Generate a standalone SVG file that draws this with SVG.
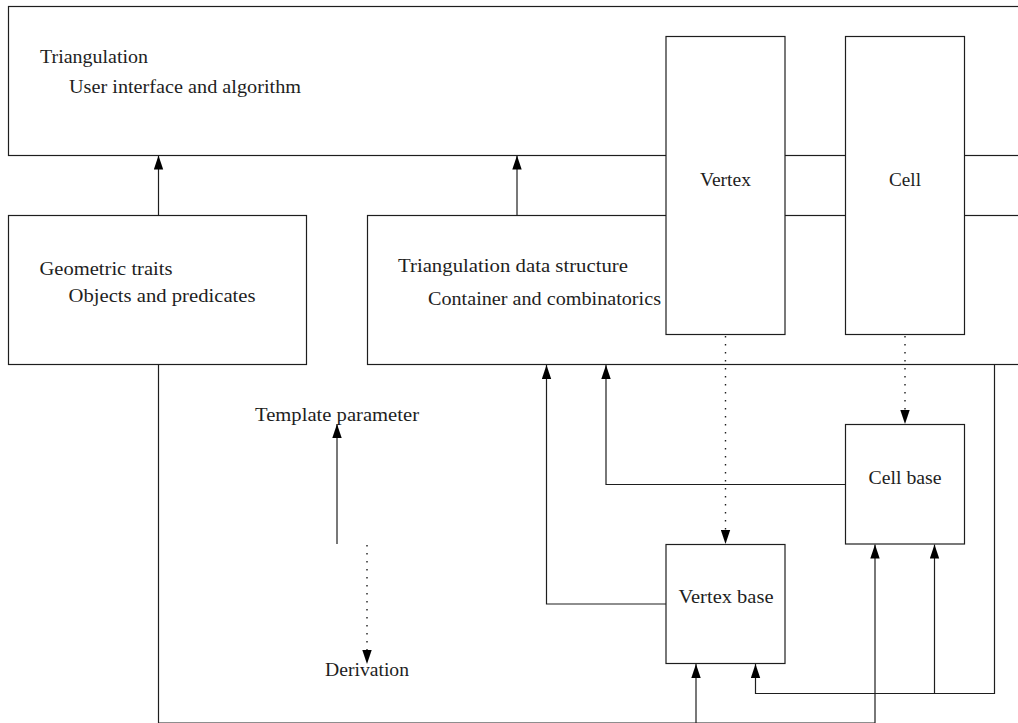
<svg xmlns="http://www.w3.org/2000/svg" width="1018" height="723" viewBox="0 0 1018 723">
  <style>
    .box { fill: #ffffff; stroke: #1e1e1e; stroke-width: 1.2; }
    .lbl { font-family: "Liberation Serif", "Times New Roman", serif; font-size: 18px; fill: #1e1e1e; }
    .mid { text-anchor: middle; }
    .wire { fill: none; stroke: #1e1e1e; stroke-width: 1.2; }
    .dot { fill: none; stroke: #1e1e1e; stroke-width: 1.4; stroke-dasharray: 1.4 6.6; }
  </style>
  <defs>
    <marker id="head" markerUnits="userSpaceOnUse" markerWidth="14" markerHeight="10" refX="14" refY="5" orient="auto">
      <path d="M0,0.3 L14,5 L0,9.7 z" fill="#000"/>
    </marker>
  </defs>
  <rect width="1018" height="723" fill="#ffffff"/>

  <!-- Top level: triangulation -->
  <g id="triangulation">
    <rect class="box" x="8.5" y="6.5" width="1030" height="149"/>
    <text class="lbl" x="40" y="63" textLength="108" lengthAdjust="spacingAndGlyphs">Triangulation</text>
    <text class="lbl" x="69" y="93" textLength="232" lengthAdjust="spacingAndGlyphs">User interface and algorithm</text>
  </g>

  <g id="geometric-traits">
    <rect class="box" x="8.5" y="215.5" width="298" height="149"/>
    <text class="lbl" x="39.5" y="275" textLength="133" lengthAdjust="spacingAndGlyphs">Geometric traits</text>
    <text class="lbl" x="68.5" y="302" textLength="187" lengthAdjust="spacingAndGlyphs">Objects and predicates</text>
  </g>

  <g id="tds">
    <rect class="box" x="367.5" y="215.5" width="670" height="149"/>
    <text class="lbl" x="398" y="272" textLength="230" lengthAdjust="spacingAndGlyphs">Triangulation data structure</text>
    <text class="lbl" x="428" y="305" textLength="233" lengthAdjust="spacingAndGlyphs">Container and combinatorics</text>
  </g>

  <g id="vertex">
    <rect class="box" x="666" y="36.5" width="119" height="298"/>
    <text class="lbl mid" x="725.5" y="186" textLength="51" lengthAdjust="spacingAndGlyphs">Vertex</text>
  </g>

  <g id="cell">
    <rect class="box" x="845.5" y="36.5" width="119" height="298"/>
    <text class="lbl mid" x="905" y="186" textLength="32" lengthAdjust="spacingAndGlyphs">Cell</text>
  </g>

  <g id="cell-base">
    <rect class="box" x="845.5" y="424.5" width="119" height="119.5"/>
    <text class="lbl mid" x="905" y="483.5" textLength="73" lengthAdjust="spacingAndGlyphs">Cell base</text>
  </g>

  <g id="vertex-base">
    <rect class="box" x="666" y="544.5" width="119" height="119"/>
    <text class="lbl mid" x="726" y="603" textLength="95" lengthAdjust="spacingAndGlyphs">Vertex base</text>
  </g>

  <!-- Legend -->
  <g id="legend">
    <text class="lbl mid" x="337" y="421" textLength="164" lengthAdjust="spacingAndGlyphs">Template parameter</text>
    <text class="lbl mid" x="367" y="676" textLength="84" lengthAdjust="spacingAndGlyphs">Derivation</text>
  </g>

  <g id="connectors">
    <path class="wire" d="M158.5,215 V155.5" marker-end="url(#head)"/>
    <path class="wire" d="M517,215 V155.5" marker-end="url(#head)"/>
    <path class="dot" d="M725.5,336 V544" marker-end="url(#head)"/>
    <path class="dot" d="M905,336 V424" marker-end="url(#head)"/>
    <path class="wire" d="M666,604 H546.5 V365" marker-end="url(#head)"/>
    <path class="wire" d="M845.5,484.5 H606 V365" marker-end="url(#head)"/>
    <path class="wire" d="M994.5,365 V693.5 H755.5 V664" marker-end="url(#head)"/>
    <path class="wire" d="M934.5,693.5 V544.5" marker-end="url(#head)"/>
    <path class="wire" d="M158.5,365 V723 H875 V544.5" marker-end="url(#head)"/>
    <path class="wire" d="M696,723 V664" marker-end="url(#head)"/>
    <path class="wire" d="M337,544 V424" marker-end="url(#head)"/>
    <path class="dot" d="M367,545 V664" marker-end="url(#head)"/>
  </g>
</svg>
